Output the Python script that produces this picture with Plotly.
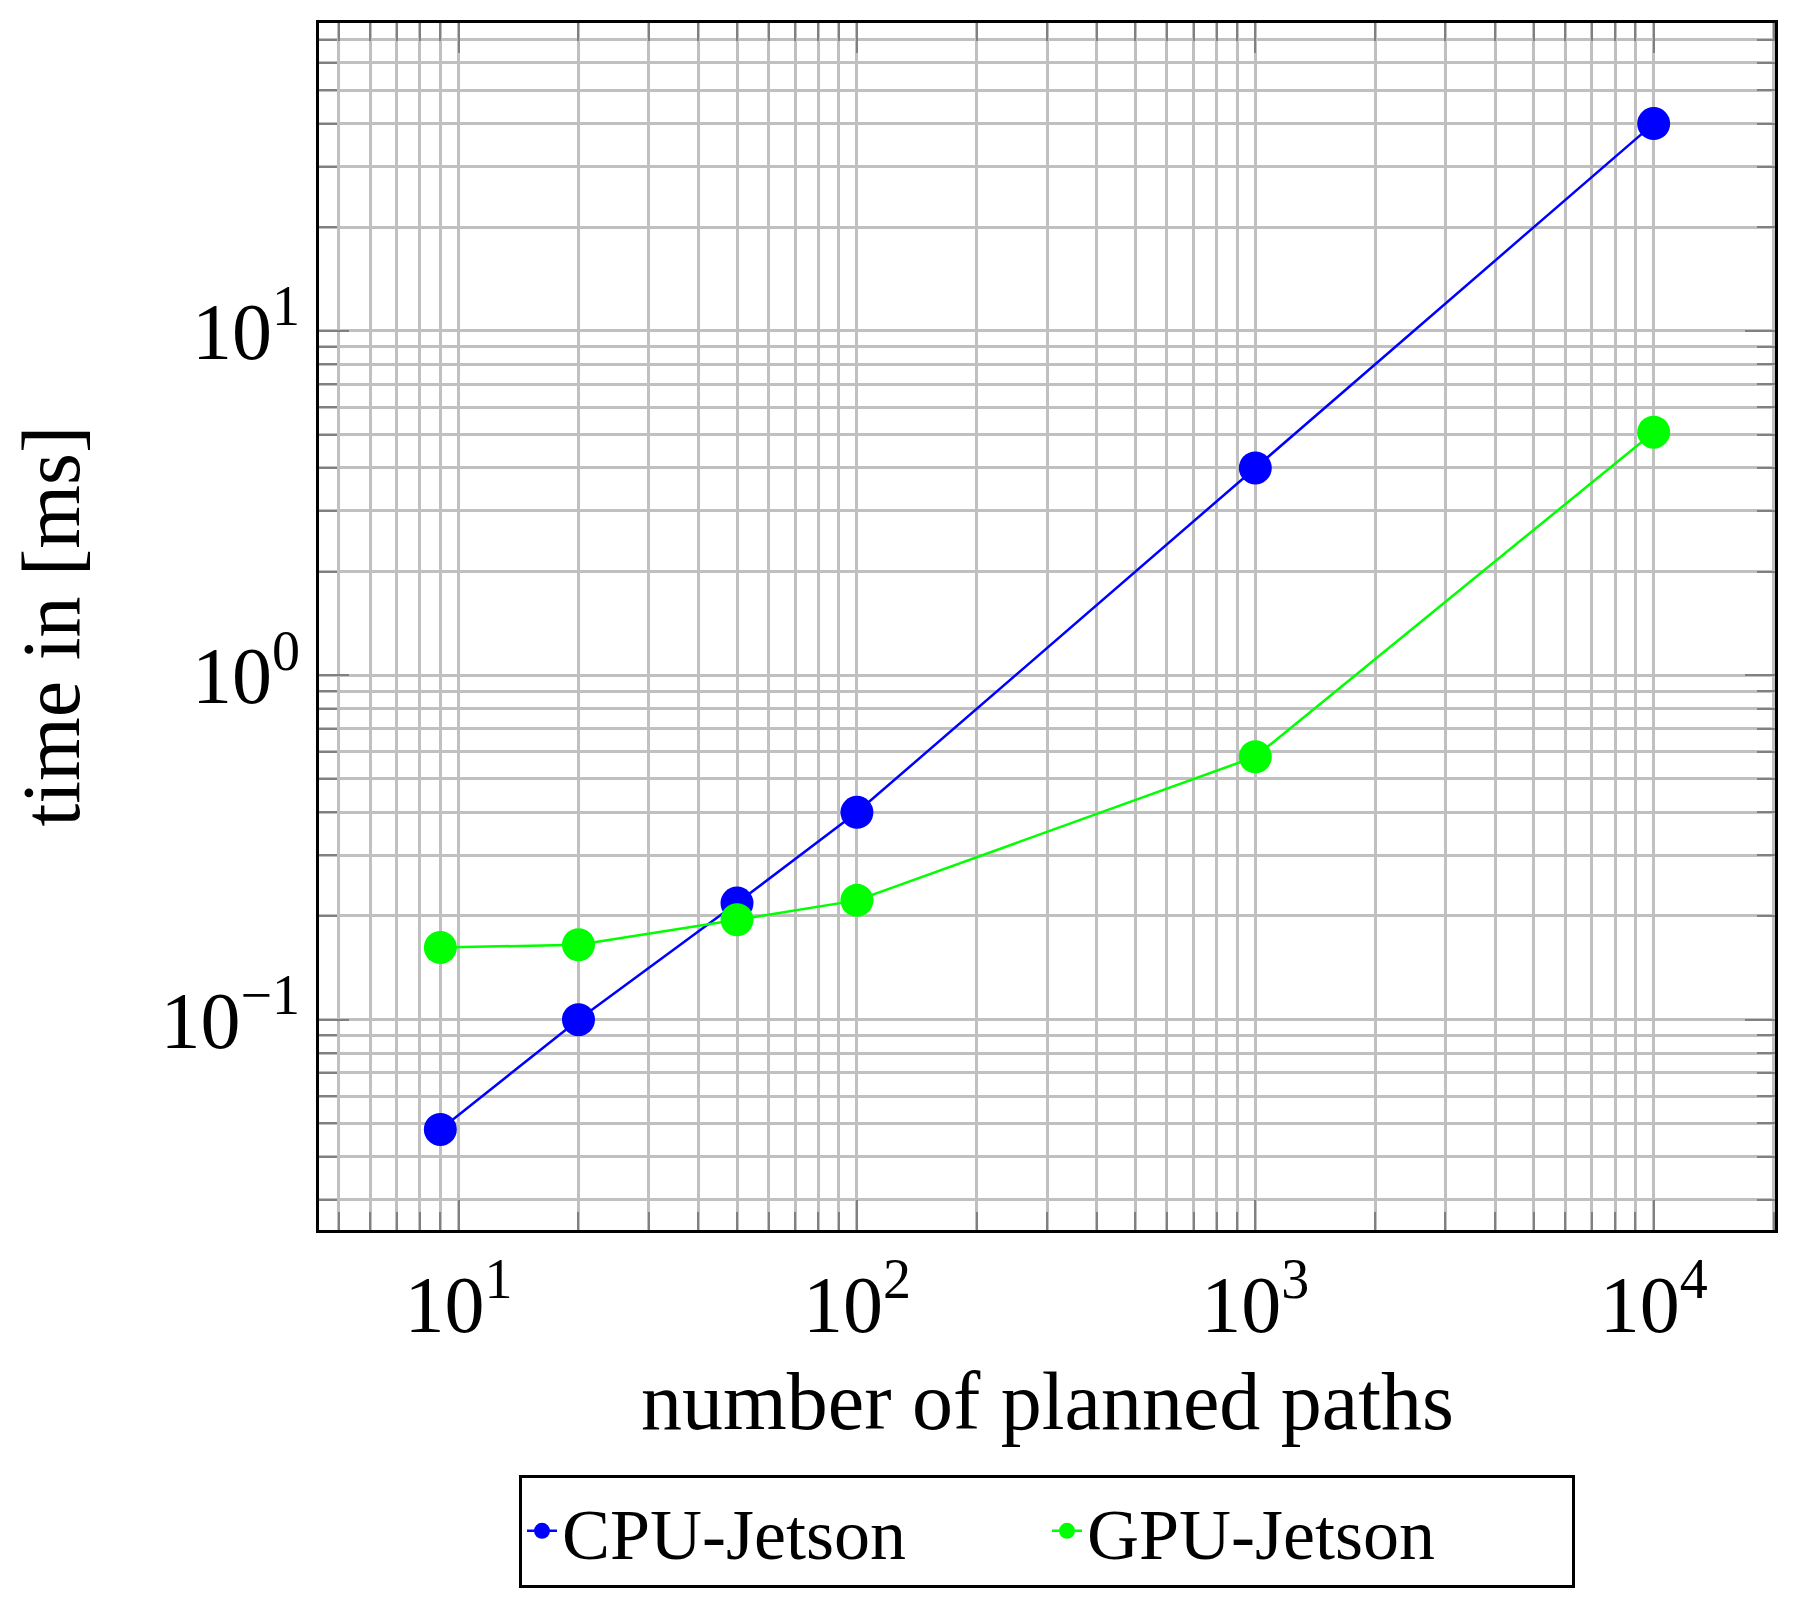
import math

import plotly.graph_objects as go

# number of planned paths
paths = [9, 20, 50, 100, 1000, 10000]

# time in ms
cpu_jetson = [0.048, 0.1, 0.218, 0.4, 4.0, 40.0]
gpu_jetson = [0.162, 0.165, 0.195, 0.222, 0.58, 5.08]

x_ticks = [10, 100, 1000, 10000]
x_ticktext = ["10<sup>1</sup>", "10<sup>2</sup>", "10<sup>3</sup>", "10<sup>4</sup>"]
y_ticks = [0.1, 1, 10]
y_ticktext = ["10<sup>\u22121</sup>", "10<sup>0</sup>", "10<sup>1</sup>"]

FONT = "Liberation Serif"
GRID = "#c0c0c0"
TICK = "#808080"


def log_range(values, enlarge=0.1):
    lo, hi = math.log10(min(values)), math.log10(max(values))
    pad = (hi - lo) * enlarge
    return [lo - pad, hi + pad]


fig = go.Figure()
fig.add_trace(go.Scatter(x=paths, y=cpu_jetson, name="CPU-Jetson", mode="lines+markers",
                         line=dict(color="#0000ff", width=2.5),
                         marker=dict(color="#0000ff", size=33)))
fig.add_trace(go.Scatter(x=paths, y=gpu_jetson, name="GPU-Jetson", mode="lines+markers",
                         line=dict(color="#00ff00", width=2.5),
                         marker=dict(color="#00ff00", size=33)))

axis_style = dict(type="log", showline=True, linecolor="black", linewidth=3, mirror="allticks",
                  ticks="inside", ticklen=30, tickcolor=TICK, tickwidth=1.5,
                  showgrid=True, gridcolor=GRID, gridwidth=2.5, zeroline=False,
                  tickfont=dict(family=FONT, size=80, color="black"),
                  minor=dict(dtick="D1", ticks="inside", ticklen=18, tickcolor=TICK, tickwidth=1.5,
                             showgrid=True, gridcolor=GRID, gridwidth=2.5))

fig.update_xaxes(range=log_range(paths), tickmode="array", tickvals=x_ticks, ticktext=x_ticktext,
                 ticklabelstandoff=3, **axis_style)
fig.update_yaxes(range=log_range(cpu_jetson + gpu_jetson), tickmode="array", tickvals=y_ticks,
                 ticktext=y_ticktext, ticklabelstandoff=0, **axis_style)

fig.add_annotation(text="number of planned paths", xref="paper", yref="paper", x=0.5, y=-0.1423,
                   xanchor="center", yanchor="middle", showarrow=False,
                   font=dict(family=FONT, size=82, color="black"))
fig.add_annotation(text="time in [ms]", xref="paper", yref="paper", x=-0.184, y=0.5,
                   xanchor="center", yanchor="middle", textangle=-90, showarrow=False,
                   font=dict(family=FONT, size=82, color="black"))

# the page body has an 8px margin, so the margins are shifted to keep the plot in place
fig.update_layout(
    width=1800, height=1622,
    margin=dict(l=311, r=33, t=13, b=400),
    plot_bgcolor="white", paper_bgcolor="white",
    font=dict(family=FONT, size=76, color="black"),
    legend=dict(orientation="h", x=0.5, xanchor="center", y=-0.2026, yanchor="top",
                entrywidth=480, bordercolor="black", borderwidth=3, bgcolor="white",
                font=dict(family=FONT, size=72, color="black")),
)

fig.write_html("out.html")
